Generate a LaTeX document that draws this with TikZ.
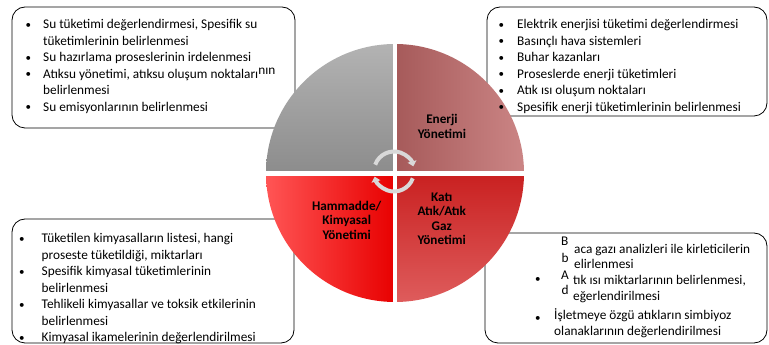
\documentclass[tikz,border=0pt]{standalone}
\usepackage{fontspec}
\setmainfont{Carlito}
\usetikzlibrary{arrows.meta}

\definecolor{waterTop}{HTML}{B3B3B3}
\definecolor{waterBot}{HTML}{8C8C8C}
\definecolor{energyL}{HTML}{A65A5A}
\definecolor{energyR}{HTML}{CB8585}
\definecolor{rawL}{HTML}{FF5555}
\definecolor{rawM}{HTML}{FF0505}
\definecolor{rawR}{HTML}{E80000}
\definecolor{wasteTop}{HTML}{C92020}
\definecolor{wasteBot}{HTML}{DE5C5C}
\definecolor{cyclegray}{HTML}{D9D9D9}

% a slightly smaller list bullet
\newcommand{\listdot}{{\fontsize{11}{11}\selectfont\raisebox{0.6pt}{•}}}

\begin{document}
\begin{tikzpicture}[x=1pt,y=1pt,
  panel/.style={draw=black, line width=0.8pt, fill=white, rounded corners=13pt},
  itemtext/.style={anchor=base west, inner sep=0pt, font=\fontsize{13.3}{16.5}\selectfont},
  hub/.style={anchor=center, align=center, inner sep=0pt, font=\bfseries\fontsize{13.2}{14.5}\selectfont},
  cyclearrow/.style={draw=cyclegray, line width=4pt, -{Triangle[width=9pt,length=5pt]}},
  gap/.style={draw=white, line width=#1},
]
\useasboundingbox (0,0) rectangle (769,345);

% ---- text panels (behind the wheel) ----
\draw[panel] (12,217) rectangle (295,338);
\draw[panel] (487,229) rectangle (767,338);
\draw[panel] (12,2) rectangle (294,126);
\draw[panel] (485,2) rectangle (767,112);

% ---- the wheel ----
\coordinate (c) at (395,172);
\def\R{129}
\shade[top color=waterTop, bottom color=waterBot]
  (c) -- ++(0,\R) arc[start angle=90, end angle=180, radius=\R] -- cycle;
\shade[left color=energyL, right color=energyR]
  (c) -- ++(\R,0) arc[start angle=0, end angle=90, radius=\R] -- cycle;
\shade[left color=rawL, middle color=rawM, right color=rawR]
  (c) -- ++(-\R,0) arc[start angle=180, end angle=270, radius=\R] -- cycle;
\shade[top color=wasteTop, bottom color=wasteBot]
  (c) -- ++(0,-\R) arc[start angle=270, end angle=360, radius=\R] -- cycle;

\coordinate (vt) at (395,303);
\coordinate (vb) at (395,40);
\coordinate (hl) at (264,171.5);
\coordinate (hr) at (526,171.5);
\draw[gap=4.5pt] (vt) -- (vb);
\draw[gap=5pt] (hl) -- (hr);

% ---- cycle arrows in the middle ----
\coordinate (hubc) at (394,173.5);
\draw[cyclearrow] ([shift={(160:20)}]hubc) arc[start angle=160, end angle=15, radius=20];
\draw[cyclearrow] ([shift={(-20:20)}]hubc) arc[start angle=-20, end angle=-165, radius=20];

% ---- wheel labels ----
\node[hub] (energy) at (442,218.7) {Enerji\\Yönetimi};
\node[hub] (raw) at (346.7,124.7) {Hammadde/\\Kimyasal\\Yönetimi};
\node[hub] (waste) at (441.7,126) {Katı\\Atık/Atık\\Gaz\\Yönetimi};

% ---- panel texts ----
\node[itemtext] (waterlist) at (25.5,316) {\begin{tabular}[t]{@{}p{17.5pt}@{}l@{}}
\listdot & Su tüketimi değerlendirmesi, Spesifik su\\
  & tüketimlerinin belirlenmesi\\
\listdot & Su hazırlama proseslerinin irdelenmesi\\
\listdot & Atıksu yönetimi, atıksu oluşum noktaları\raisebox{4pt}{nın}\\
  & belirlenmesi\\
\listdot & Su emisyonlarının belirlenmesi
\end{tabular}};

\node[itemtext] (energylist) at (498.5,316) {\begin{tabular}[t]{@{}p{18.5pt}@{}l@{}}
\listdot & Elektrik enerjisi tüketimi değerlendirmesi\\
\listdot & Basınçlı hava sistemleri\\
\listdot & Buhar kazanları\\
\listdot & Proseslerde enerji tüketimleri\\
\listdot & Atık ısı oluşum noktaları\\
\listdot & Spesifik enerji tüketimlerinin belirlenmesi
\end{tabular}};

\node[itemtext] (rawlist) at (19,102) {\begin{tabular}[t]{@{}p{22.5pt}@{}l@{}}
\listdot & Tüketilen kimyasalların listesi, hangi\\
  & proseste tüketildiği, miktarları\\
\listdot & Spesifik kimyasal tüketimlerinin\\
  & belirlenmesi\\
\listdot & Tehlikeli kimyasallar ve toksik etkilerinin\\
  & belirlenmesi\\
\listdot & Kimyasal ikamelerinin değerlendirilmesi
\end{tabular}};

% waste panel: split initials sit apart from the rest of their words
\node[itemtext] (wB) at (561,99.3) {B};
\node[itemtext] (wL1) at (574,91.7) {aca gazı analizleri ile kirleticilerin};
\node[itemtext] (wb) at (561.5,82.3) {b};
\node[itemtext] (wL2) at (574,76) {elirlenmesi};
\node[itemtext] (wbul1) at (535,62) {\listdot};
\node[itemtext] (wA) at (561,65) {A};
\node[itemtext] (wL3) at (573,60) {tık ısı miktarlarının belirlenmesi,};
\node[itemtext] (wd) at (561.5,50) {d};
\node[itemtext] (wL4) at (573,44) {eğerlendirilmesi};
\node[itemtext] (wbul2) at (535,23) {\listdot};
\node[itemtext] (wL5) at (554,25) {İşletmeye özgü atıkların simbiyoz};
\node[itemtext] (wL6) at (554,9.3) {olanaklarının değerlendirilmesi};
\end{tikzpicture}
\end{document}
